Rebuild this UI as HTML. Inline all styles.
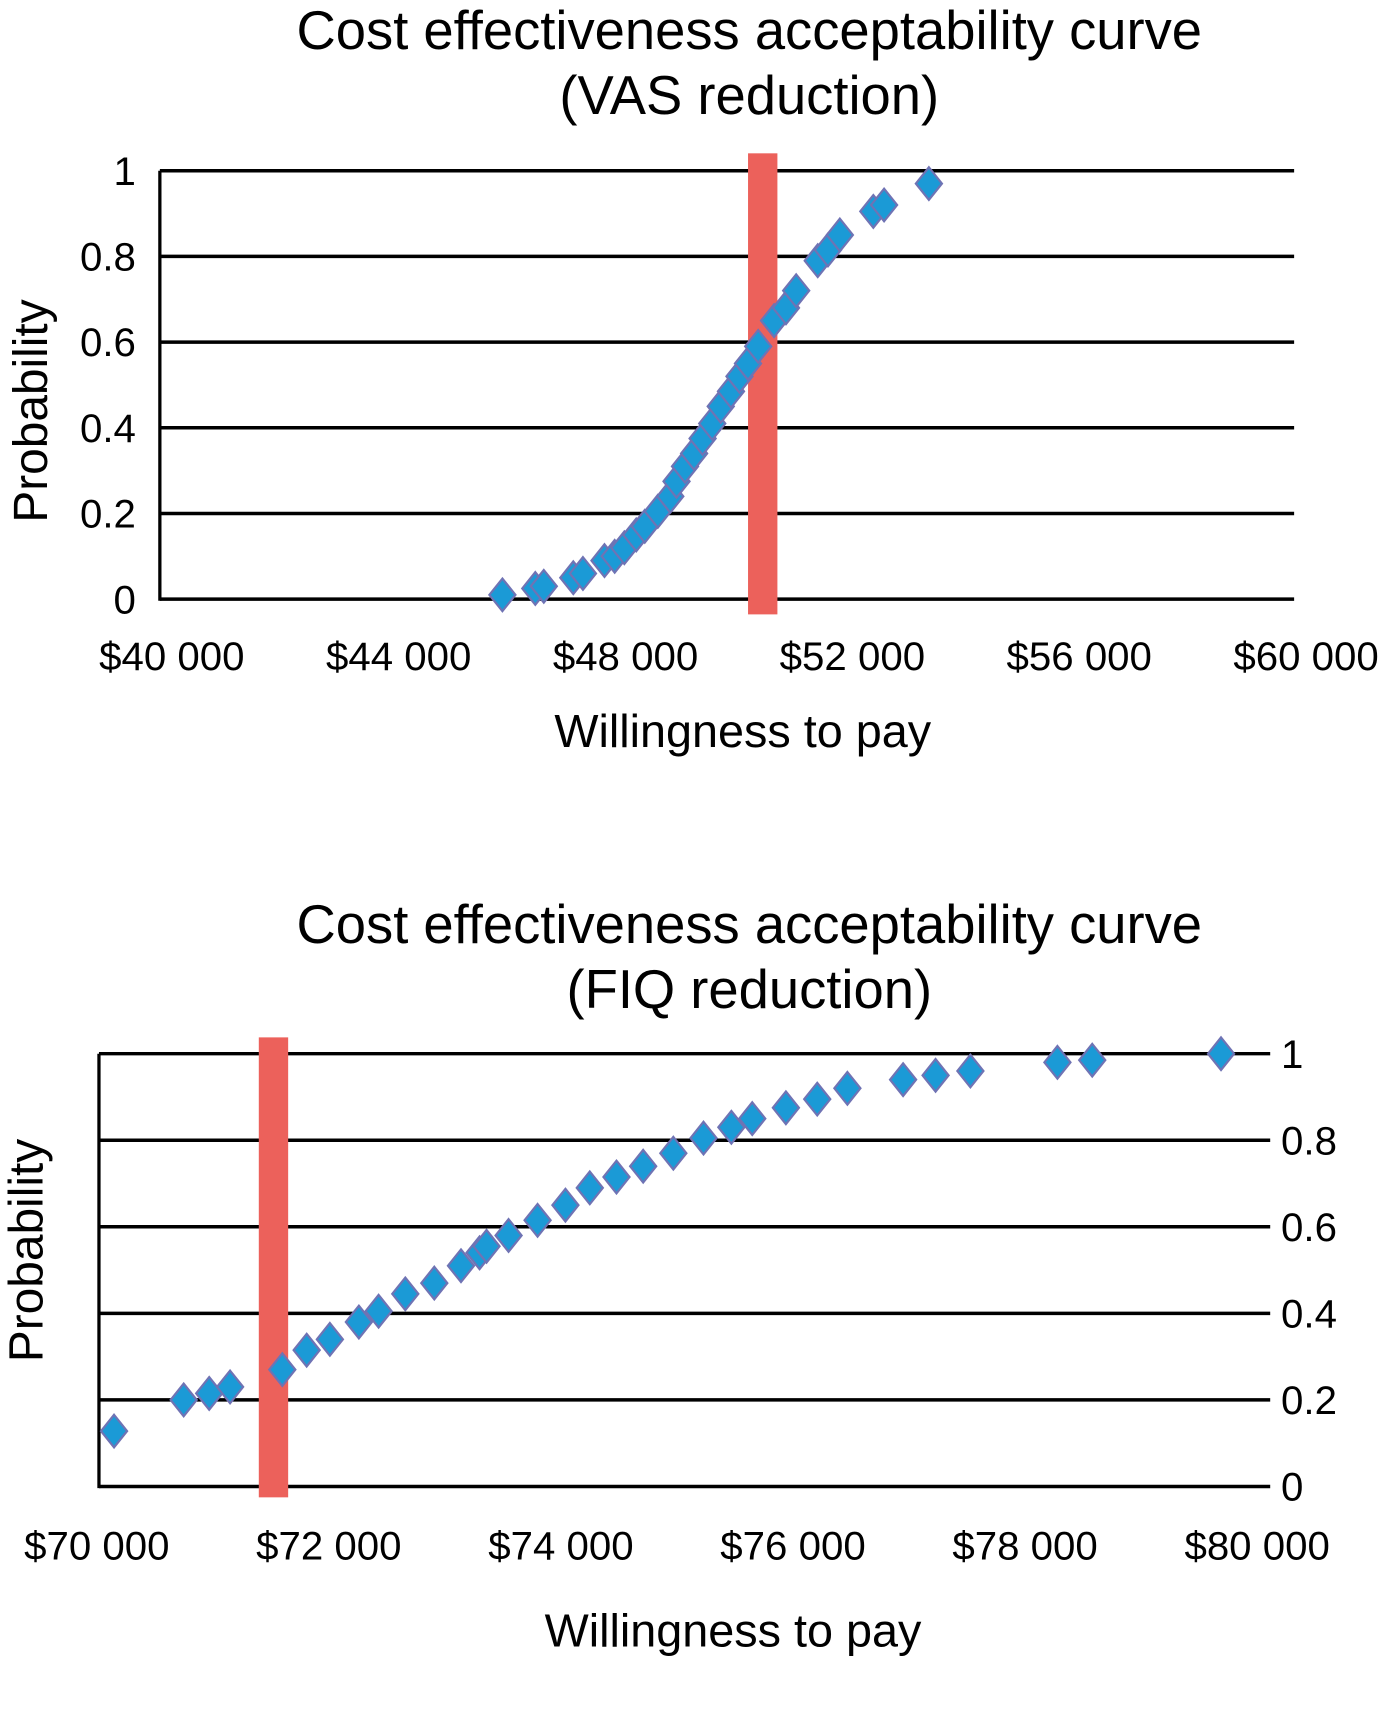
<!DOCTYPE html>
<html><head><meta charset="utf-8"><style>
html,body{margin:0;padding:0;background:#fff}
svg{display:block}
text{font-family:"Liberation Sans",sans-serif;fill:#000}
</style></head><body>
<svg id="c" width="1392" height="1717" viewBox="0 0 1280 1579" preserveAspectRatio="none"></svg>
<script>
const vasX=[46040,46620,46770,47290,47460,47840,48020,48190,48400,48550,48780,49000,49110,49260,49420,49570,49740,49890,50070,50220,50370,50550,50830,51040,51220,51600,51780,51990,52580,52770,53560];
const vasY=[0.01,0.025,0.03,0.05,0.06,0.09,0.10,0.12,0.15,0.17,0.205,0.24,0.275,0.31,0.34,0.375,0.41,0.45,0.485,0.52,0.55,0.59,0.65,0.68,0.72,0.79,0.815,0.85,0.905,0.92,0.97];
const vasThreshold=50630;
const vasXTicks=[40000,44000,48000,52000,56000,60000];
const vasYTicks=[0,0.2,0.4,0.6,0.8,1];
const fiqX=[70130,70730,70950,71130,71580,71790,71990,72240,72410,72640,72890,73120,73280,73340,73530,73780,74020,74230,74460,74690,74950,75210,75450,75630,75920,76190,76450,76930,77210,77510,78260,78560,79670];
const fiqY=[0.128,0.20,0.215,0.23,0.27,0.315,0.34,0.38,0.405,0.445,0.47,0.51,0.54,0.555,0.58,0.615,0.65,0.69,0.715,0.74,0.77,0.805,0.83,0.85,0.875,0.895,0.92,0.94,0.95,0.96,0.98,0.985,1.0];
const fiqThreshold=71504;
const fiqXTicks=[70000,72000,74000,76000,78000,80000];
const fiqYTicks=[0,0.2,0.4,0.6,0.8,1];

const svg=document.getElementById('c');
const NS='http://www.w3.org/2000/svg';
function mk(tag,attrs,parent){const e=document.createElementNS(NS,tag);for(const k in attrs)e.setAttribute(k,attrs[k]);(parent||svg).appendChild(e);return e;}
function txt(s,x,y,size,anchor,name,parent){const t=mk('text',{x:x,y:y,'font-size':size,'text-anchor':anchor},parent);t.textContent=s;


return t;}
function fmt(v){return '$'+String(v).slice(0,2)+' '+String(v).slice(2);}

function chart(o){
  const g=mk('g',{});
  
  
  const sx=v=>o.x0+(v-o.xmin)/(o.xmax-o.xmin)*(o.x1-o.x0);
  const sy=v=>o.y0-(v)*(o.y0-o.y1);
  txt('Cost effectiveness acceptability curve',o.tx,o.ty,50,'middle','chart-title',g);
  txt(o.sub,o.tx,o.ty+60,50,'middle','chart-subtitle',g);
  o.yt.forEach(v=>{
    const l=mk('line',{x1:o.x0,x2:o.x1+(o.right?10:0),y1:sy(v),y2:sy(v),stroke:'#000','stroke-width':3.2},g);
    
    
    if(o.right) txt(String(v),o.x1+20,sy(v)+13,37,'start','y-tick-label',g);
    else txt(String(v),o.x0-22,sy(v)+13,37,'end','y-tick-label',g);
  });
  const ax=mk('line',{x1:o.x0,x2:o.x0,y1:sy(1),y2:sy(0)+1.5,stroke:'#000','stroke-width':3},g);
  
  
  o.xt.forEach(v=>{txt(fmt(v),sx(v)+o.lo,o.ly,37,'middle','x-tick-label',g);});
  const r=mk('rect',{x:sx(o.thr)-13.5,y:o.ry0,width:27,height:o.ry1-o.ry0,fill:'#ec615b'},g);
  
  
  o.xs.forEach((xv,i)=>{
    const cx=sx(xv),cy=sy(o.ys[i]),s=12;
    const d=mk('path',{d:`M${cx},${cy-s-3}L${cx+s},${cy}L${cx},${cy+s+3}L${cx-s},${cy}Z`,fill:'#1b9ad6',stroke:'#6f73b4','stroke-width':2},g);
    
    
  });
  txt('Willingness to pay',o.tx-o.xto,o.xty,43,'middle','x-axis-title',g);
  const yt=txt('Probability',0,0,44,'middle','y-axis-title',g);
  yt.setAttribute('transform',`translate(${o.ytx},${o.yty}) rotate(-90)`);
}
chart({name:'vas-chart',sub:'(VAS reduction)',tx:689,ty:45,x0:147,x1:1190,xmin:40000,xmax:60000,y0:551,y1:157,
  yt:vasYTicks,xt:vasXTicks,xs:vasX,ys:vasY,thr:vasThreshold,ry0:141,ry1:565,lo:11,ly:616,right:false,xto:6,xty:687,ytx:43,yty:378});
chart({name:'fiq-chart',sub:'(FIQ reduction)',tx:689,ty:867,x0:91,x1:1158,xmin:70000,xmax:80000,y0:1367,y1:969,
  yt:fiqYTicks,xt:fiqXTicks,xs:fiqX,ys:fiqY,thr:fiqThreshold,ry0:954,ry1:1377,lo:-2,ly:1434,right:true,xto:15,xty:1514,ytx:39,yty:1150});
</script>
</body></html>
